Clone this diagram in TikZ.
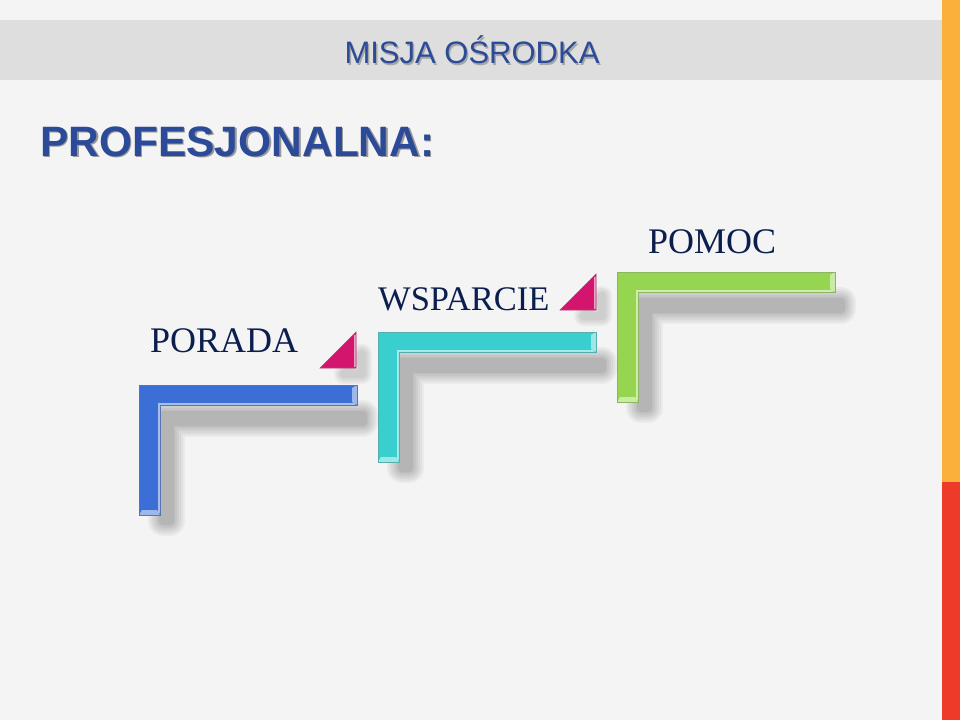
\documentclass[tikz,border=0pt]{standalone}
\usepackage{fontspec}
\setmainfont{Liberation Serif}
\newfontfamily\headfont{Liberation Sans}
\definecolor{bgcol}{HTML}{F4F4F4}
\definecolor{bandcol}{HTML}{DEDEDE}
\definecolor{stripeorange}{HTML}{FBB03B}
\definecolor{stripered}{HTML}{EE3A29}
\definecolor{titleblue}{HTML}{2B4A98}
\definecolor{labelnavy}{HTML}{0C1E4E}
\definecolor{stepblue}{HTML}{3B6FD5}
\definecolor{stepcyan}{HTML}{3ACFCF}
\definecolor{stepgreen}{HTML}{95D550}
\definecolor{arrowpink}{HTML}{D4156E}
\tikzset{
  headtitle/.style={font=\headfont\fontsize{31}{31}\selectfont, inner sep=0pt},
  bigtitle/.style={font=\headfont\bfseries\fontsize{42.5}{42.5}\selectfont, inner sep=0pt, anchor=base west},
  steplabel/.style={text=labelnavy, font=\fontsize{36}{36}\selectfont, inner sep=0pt, anchor=base west},
  softshadow/.style={black, opacity=0.04, line join=round}
}
\begin{document}
\begin{tikzpicture}[x=1pt,y=-1pt]
  % tlo
  \fill[bgcol] (0,0) rectangle (960,720);
  \useasboundingbox (0,0) rectangle (960,720);
  \fill[bandcol] (0,20) rectangle (942,80);
  \fill[stripeorange] (942,0) rectangle (960,482);
  \fill[stripered] (942,482) rectangle (960,720);

  % tytuly
  \node[headtitle, text=black!35] (misjashadow) at (473.5,51.5) {MISJA OŚRODKA};
  \node[headtitle, text=titleblue] (misja) at (472,50) {MISJA OŚRODKA};
  \node[bigtitle, text=black!40] (profshadow) at (41.5,157.5) {PROFESJONALNA:};
  \node[bigtitle, text=titleblue] (prof) at (40,156) {PROFESJONALNA:};

  % schodki
  \foreach \sx/\sy/\scol in {139/385/stepblue, 378/332/stepcyan, 617/272/stepgreen} {
    \foreach \w in {30,26,22,18,14,10,8}
      \draw[softshadow, line width=\w pt]
        (\sx+24,\sy+30) -- (\sx+224,\sy+30) -- (\sx+224,\sy+37) -- (\sx+31,\sy+37)
        -- (\sx+31,\sy+136) -- (\sx+24,\sy+136) -- cycle;
    \fill[\scol] (\sx,\sy) -- (\sx+218,\sy) -- (\sx+218,\sy+20) -- (\sx+21,\sy+20)
      -- (\sx+21,\sy+130) -- (\sx,\sy+130) -- cycle;
    \draw[\scol!45!white, line width=2pt] (\sx+20,\sy+128) -- (\sx+20,\sy+19) -- (\sx+216,\sy+19);
    \fill[\scol!50!white] (\sx+213,\sy+3) -- (\sx+218,\sy) -- (\sx+218,\sy+20) -- (\sx+213,\sy+17) -- cycle;
    \fill[\scol!50!white] (\sx+3,\sy+125) -- (\sx+18,\sy+125) -- (\sx+21,\sy+130) -- (\sx,\sy+130) -- cycle;
    \draw[\scol!60!gray, line width=0.8pt] (\sx,\sy) -- (\sx+218,\sy) -- (\sx+218,\sy+20) -- (\sx+21,\sy+20)
      -- (\sx+21,\sy+130) -- (\sx,\sy+130) -- cycle;
  }

  % trojkaty
  \foreach \tx/\ty in {356/368, 596/310} {
    \foreach \w in {20,16,12,8}
      \draw[softshadow, line width=\w pt] (\tx-12,\ty+6) -- (\tx+6,\ty+6) -- (\tx+6,\ty-14) -- cycle;
    \fill[arrowpink] (\tx-36,\ty) -- (\tx,\ty) -- (\tx,\ty-36) -- cycle;
    \draw[arrowpink!40!white, line width=1.5pt] (\tx-1,\ty-33) -- (\tx-1,\ty-1);
    \draw[arrowpink!60!gray, line width=0.6pt] (\tx-36,\ty) -- (\tx,\ty) -- (\tx,\ty-36) -- cycle;
  }

  % napisy
  \node[steplabel] (porada) at (150,352) {PORADA};
  \node[steplabel, font=\fontsize{34.5}{34.5}\selectfont] (wsparcie) at (378,310) {WSPARCIE};
  \node[steplabel] (pomoc) at (648,253) {POMOC};
\end{tikzpicture}
\end{document}
